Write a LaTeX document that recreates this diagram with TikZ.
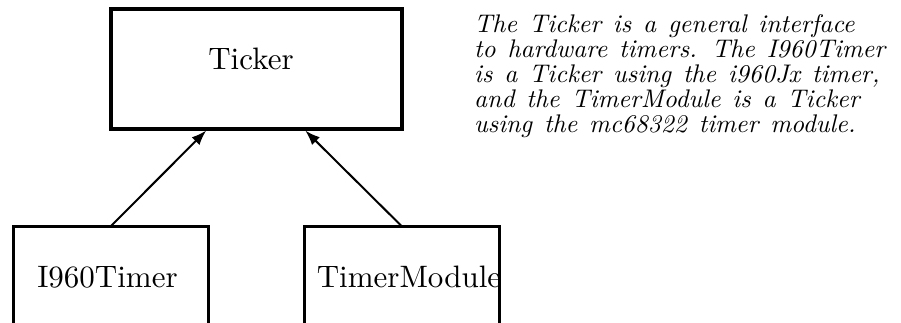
\documentclass[tikz,border=0pt]{standalone}
\usepackage{fontspec}
\usetikzlibrary{arrows.meta}
\newfontfamily\labelfont{lmroman10-regular.otf}
\newfontfamily\notefont{lmroman10-italic.otf}[WordSpace=1.3]
\begin{document}
\begin{tikzpicture}[x=1pt,y=-1pt,
  box/.style={draw,rectangle,inner sep=0pt,outer sep=0pt},
  bigbox/.style={box,line width=4pt,minimum width=290.5pt,minimum height=120.5pt},
  subbox/.style={box,line width=3pt,minimum width=195pt,minimum height=120pt},
  boxlabel/.style={anchor=base,inner sep=0pt,font=\labelfont\fontsize{31}{36}\selectfont},
  note/.style={anchor=base west,inner sep=0pt,align=left,font=\notefont\fontsize{25.5}{25.2}\selectfont},
  inherit/.style={line width=2pt,-{Latex[length=15pt,width=11pt]}}]
\path[use as bounding box] (0,0) rectangle (901,323);
\clip (0,0) rectangle (901,323);
\node[bigbox] (ticker) at (256.25,69.25) {};
\node[boxlabel] (tickerlabel) at (251,70) {Ticker};
\node[subbox] (i960) at (111,286) {};
\node[boxlabel] (i960label) at (107.5,287) {I960Timer};
\node[subbox] (tmod) at (401.5,286) {};
\node[boxlabel] (tmodlabel) at (409,287) {TimerModule};
\draw[inherit] (i960.north) -- ([xshift=-50pt,yshift=-1pt]ticker.south);
\draw[inherit] (tmod.north) -- ([xshift=49pt,yshift=-1pt]ticker.south);
\node[note] (notetext) at (474,133) {The Ticker is a general interface\\to hardware timers. The I960Timer\\is a Ticker using the i960Jx timer,\\and the TimerModule is a Ticker\\using the mc68322 timer module.};
\end{tikzpicture}
\end{document}
